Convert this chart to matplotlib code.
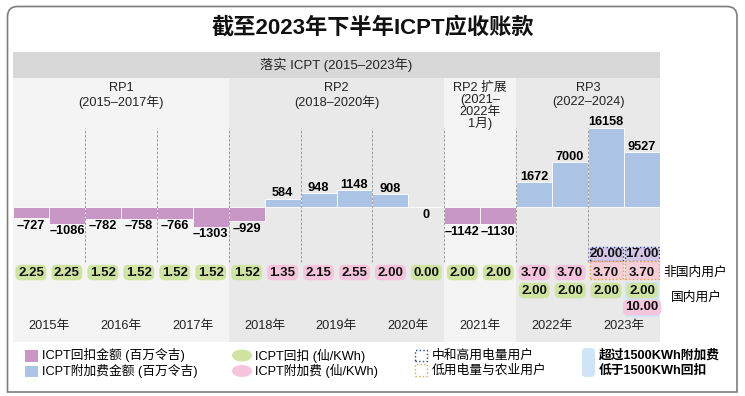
import numpy as np
import matplotlib
matplotlib.use("Agg")
import matplotlib.pyplot as plt
from matplotlib.patches import Rectangle, FancyBboxPatch, Ellipse, PathPatch
from matplotlib.path import Path
from matplotlib.transforms import IdentityTransform

plt.rcParams['font.family'] = ['Liberation Sans', 'Noto Sans CJK SC', 'DejaVu Sans']

# ---- data (half-year slots, 2015 H1 .. 2023 H2) ----
years = ['2015年', '2016年', '2017年', '2018年', '2019年', '2020年', '2021年', '2022年', '2023年']
period_lines = [['RP1', '(2015–2017年)'],
                ['RP2', '(2018–2020年)'],
                ['RP2 扩展', '(2021–', '2022年', '1月)'],
                ['RP3', '(2022–2024)']]
period_years = [3, 3, 1, 2]
# ICPT amount, RM million (negative = rebate, positive = surcharge)
amount = [-727, -1086, -782, -758, -766, -1303, -929, 584, 948, 1148, 908, 0,
          -1142, -1130, 1672, 7000, 16158, 9527]
# rate for non-domestic users, sen/kWh
non_domestic = [2.25, 2.25, 1.52, 1.52, 1.52, 1.52, 1.52, 1.35, 2.15, 2.55, 2.00, 0.00,
                2.00, 2.00, 3.70, 3.70, 3.70, 3.70]
non_domestic_surcharge = [0, 0, 0, 0, 0, 0, 0, 1, 1, 1, 1, 0, 0, 0, 1, 1, 1, 1]
# rate for medium/high usage users (only 2023)
high_usage = [None] * 16 + [20.00, 17.00]
# domestic users rebate
domestic = [None] * 14 + [2.00, 2.00, 2.00, 2.00]
# domestic users above 1500 kWh surcharge
domestic_over_1500 = [None] * 17 + [10.00]

title = '截至2023年下半年ICPT应收账款'
header = '落实 ICPT (2015–2023年)'

purple = '#c897c6'
blue = '#abc4e6'
green = '#d0e4a2'
pink = '#f6c4dc'
light_blue = '#cfe5f7'
navy = '#2e3c8f'
orange = '#e9a23b'
bg_light = '#f4f4f4'
bg_dark = '#e9e9e9'

W, H = 745, 396


def fx(px):
    return px / W


def fy(py):
    return 1 - py / H


fig = plt.figure(figsize=(W / 100, H / 100), dpi=100)
fig.patch.set_facecolor('white')

AX_TOP, AX_BOT, AX_L, AX_R = 78, 342, 13, 660
ax = fig.add_axes([fx(AX_L), fy(AX_BOT), (AX_R - AX_L) / W, (AX_BOT - AX_TOP) / H])


def ay(py):
    return (AX_BOT - py) / (AX_BOT - AX_TOP)


# compressed scale for large surcharges
T, K = 1700.0, 0.25


def fwd(v):
    v = np.asarray(v, dtype=float)
    a = np.abs(v)
    return np.sign(v) * np.where(a <= T, a, T + (a - T) * K)


def inv(u):
    u = np.asarray(u, dtype=float)
    a = np.abs(u)
    return np.sign(u) * np.where(a <= T, a, T + (a - T) / K)


ax.set_yscale('function', functions=(fwd, inv))
zero_py = 207.3
units_per_px = 1 / 0.015
ax.set_ylim(float(inv(-(AX_BOT - zero_py) * units_per_px)), float(inv((zero_py - AX_TOP) * units_per_px)))
ax.set_xlim(0, len(amount))
ax.axis('off')

xt = ax.get_xaxis_transform()

# period background bands and labels
start = 0
for i, (lines, ny) in enumerate(zip(period_lines, period_years)):
    end = start + 2 * ny
    ax.axvspan(start, end, color=bg_light if i % 2 == 0 else bg_dark, zorder=0, lw=0)
    step = 12 if len(lines) > 2 else 14.5
    for k, line in enumerate(lines):
        ax.text((start + end) / 2, ay(88 + k * step), line, transform=xt, ha='center', va='center',
                fontsize=9.2, color='#222222')
    start = end

# year dividers
ax.vlines(np.arange(2, len(amount), 2), ay(262), ay(128), transform=xt, colors='#8c8c8c',
          linestyles=(0, (3, 2)), lw=0.6, zorder=3)

# bars
x = np.arange(len(amount)) + 0.5
colors = [purple if v < 0 else blue for v in amount]
ax.bar(x, amount, width=1, color=colors, edgecolor='white', linewidth=0.6, zorder=2)
for xi, v in zip(x, amount):
    if v > 0:
        ax.annotate(f'{v}', (xi, v), xytext=(0, 1.5), textcoords='offset points', ha='center',
                    va='baseline', fontsize=9.2, fontweight='bold', zorder=5)
    else:
        lab = f'–{abs(v)}' if v < 0 else '0'
        ax.annotate(lab, (xi, v), xytext=(0, -1), textcoords='offset points', ha='center',
                    va='top', fontsize=9.2, fontweight='bold', zorder=5)

# rate rows
ROW0, ROW1, ROW2, ROW3 = 254, 272.5, 290.5, 307.5
pills = []


def rate_text(xi, py, val, fc):
    t = ax.text(xi, ay(py), f'{val:.2f}', transform=xt, ha='center', va='center', fontsize=9.5,
                fontweight='bold', color='#111111', zorder=6)
    if fc is not None:
        pills.append((t, fc))


for i, xi in enumerate(x):
    boxed = high_usage[i] is not None
    if boxed:
        ax.add_patch(Rectangle((i + 0.04, ay(261)), 0.92, ay(247) - ay(261), transform=xt,
                               fc='#d4c6e8', ec=navy, ls=':', lw=1.0, zorder=4))
        ax.add_patch(Rectangle((i + 0.04, ay(279)), 0.92, ay(261) - ay(279), transform=xt,
                               fc='#f7cdd8', ec=orange, ls=':', lw=1.0, zorder=4))
        rate_text(xi, ROW0, high_usage[i], None)
        rate_text(xi, ROW1, non_domestic[i], None)
    else:
        rate_text(xi, ROW1, non_domestic[i], pink if non_domestic_surcharge[i] else green)
    if domestic_over_1500[i] is not None:
        ax.add_patch(Rectangle((i + 0.03, ay(317)), 0.94, ay(282) - ay(317), transform=xt,
                               fc=light_blue, ec='none', zorder=3))
        rate_text(xi, ROW3, domestic_over_1500[i], pink)
    if domestic[i] is not None:
        rate_text(xi, ROW2, domestic[i], green)

for j, yr in enumerate(years):
    ax.text(2 * j + 1, ay(326), yr, transform=xt, ha='center', va='center', fontsize=9.2,
            color='#222222')

# rounded pill backgrounds sized from the rendered text
renderer = fig.canvas.get_renderer()
for t, fc in pills:
    bb = t.get_window_extent(renderer)
    cx, cy = (bb.x0 + bb.x1) / 2, (bb.y0 + bb.y1) / 2
    w, h = bb.width + 5, 15.5
    p = FancyBboxPatch((cx - w / 2, cy - h / 2), w, h, boxstyle='round,pad=0,rounding_size=5',
                       transform=IdentityTransform(), fc=fc, ec='none', zorder=5, clip_on=False)
    ax.add_artist(p)

# header band and title
fig.patches.append(Rectangle((fx(AX_L), fy(78)), (AX_R - AX_L) / W, 26 / H, transform=fig.transFigure,
                             fc='#d8d8d8', ec='none', zorder=1))
fig.text(fx((AX_L + AX_R) / 2), fy(65), header, ha='center', va='center', fontsize=9.5, color='#222222')
fig.text(fx(373), fy(28), title, ha='center', va='center', fontsize=16, fontweight='bold', color='#111111')

# right-hand row labels
fig.text(fx(695), fy(ROW1), '非国内用户', ha='center', va='center', fontsize=9.2)
fig.text(fx(696), fy(298), '国内用户', ha='center', va='center', fontsize=9.2)

# legend
fig.patches.append(Rectangle((fx(25), fy(361.5)), 13 / W, 11.5 / H, transform=fig.transFigure, fc=purple, ec='none'))
fig.patches.append(Rectangle((fx(25), fy(377)), 13 / W, 11.5 / H, transform=fig.transFigure, fc=blue, ec='none'))
fig.text(fx(42), fy(355.5), 'ICPT回扣金额 (百万令吉)', va='center', fontsize=9.2)
fig.text(fx(42), fy(371), 'ICPT附加费金额 (百万令吉)', va='center', fontsize=9.2)

fig.patches.append(Ellipse((fx(242), fy(355.5)), 20 / W, 12 / H, transform=fig.transFigure, fc=green, ec='none'))
fig.patches.append(Ellipse((fx(242), fy(371)), 20 / W, 12 / H, transform=fig.transFigure, fc=pink, ec='none'))
fig.text(fx(255), fy(355.5), 'ICPT回扣 (仙/KWh)', va='center', fontsize=9.2)
fig.text(fx(255), fy(371), 'ICPT附加费 (仙/KWh)', va='center', fontsize=9.2)

fig.patches.append(Rectangle((fx(414.5), fy(360.5)), 12 / W, 10.5 / H, transform=fig.transFigure,
                             fc='none', ec=navy, ls=':', lw=1.0))
fig.patches.append(Rectangle((fx(414.5), fy(375.5)), 12 / W, 11.5 / H, transform=fig.transFigure,
                             fc='none', ec=orange, ls=':', lw=1.0))
fig.text(fx(431.5), fy(355.5), '中和高用电量用户', va='center', fontsize=9.2)
fig.text(fx(431.5), fy(371), '低用电量与农业用户', va='center', fontsize=9.2)

fig.patches.append(FancyBboxPatch((582, H - 377), 13, 29, boxstyle='round,pad=0,rounding_size=4',
                                  transform=IdentityTransform(), fc=light_blue, ec='none'))
fig.text(fx(599), fy(355.5), '超过1500KWh附加费', va='center', fontsize=9.2, fontweight='bold')
fig.text(fx(599), fy(371), '低于1500KWh回扣', va='center', fontsize=9.2, fontweight='bold')

# outer frame, rounded only at the top
x0, x1, yb, yt, r = 7.5, 737, H - 392, H - 6.5, 10
verts = [(x0, yb), (x0, yt - r), (x0, yt), (x0 + r, yt), (x1 - r, yt), (x1, yt), (x1, yt - r), (x1, yb), (x0, yb)]
codes = [Path.MOVETO, Path.LINETO, Path.CURVE3, Path.CURVE3, Path.LINETO, Path.CURVE3, Path.CURVE3,
         Path.LINETO, Path.CLOSEPOLY]
fig.patches.append(PathPatch(Path(verts, codes), transform=IdentityTransform(), fc='none', ec='#7d7d7d', lw=1.2))

fig.savefig('out.png', dpi=100)
